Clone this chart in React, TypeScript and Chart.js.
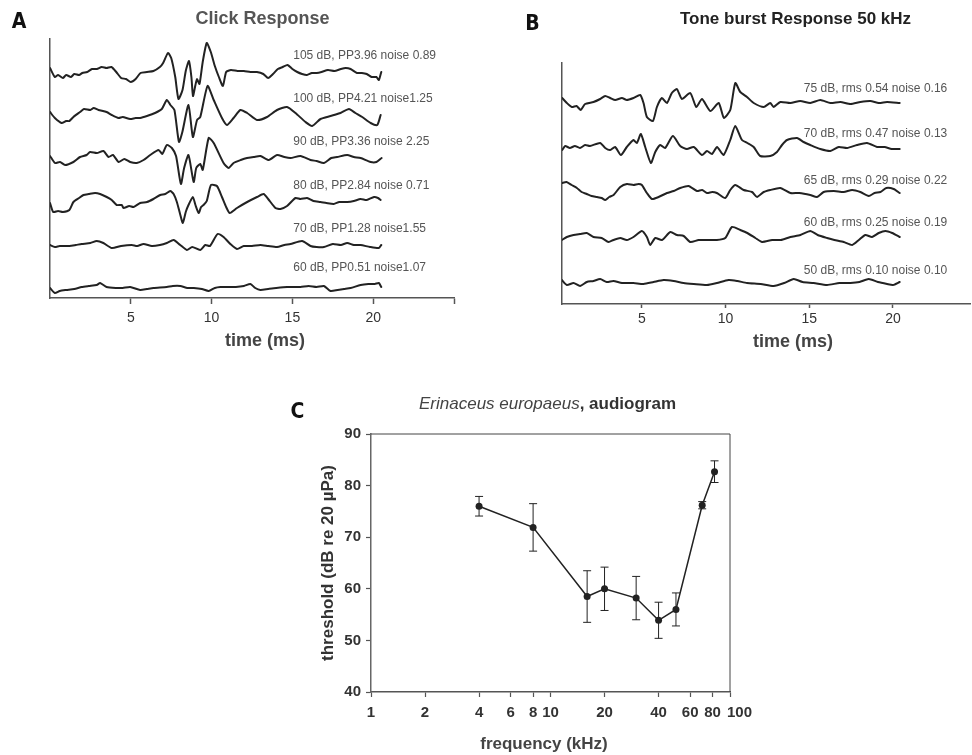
import React, { useEffect, useRef } from "react";
import { Chart, registerables } from "chart.js";

Chart.register(...registerables);

const FONT = '"Liberation Sans", Arial, Helvetica, sans-serif';
const NARROW = '"Liberation Sans Narrow", "DejaVu Sans Condensed", "Liberation Sans", sans-serif';

type Pair = [number, number];

// ---------------- Panel A: click responses (time ms, amplitude a.u.) ----------------
const CLICK_LABELS = [
  "105 dB, PP3.96 noise 0.89",
  "100 dB, PP4.21 noise1.25",
  "90 dB, PP3.36 noise 2.25",
  "80 dB, PP2.84 noise 0.71",
  "70 dB, PP1.28 noise1.55",
  "60 dB, PP0.51 noise1.07",
];
const click105: Pair[] = [[0,4],[0.3,-5],[0.5,-3],[0.8,-6],[1.0,-3],[1.3,-5],[1.5,-2],[1.8,-3],[2.0,-1],[2.3,0],[2.6,3],[2.9,3],[3.2,5],[3.5,4],[3.8,5],[4.1,0],[4.4,-6],[4.7,-7],[5.0,-10],[5.3,-7],[5.6,-1],[6.0,0],[6.4,1],[6.8,5],[7.0,9],[7.3,19],[7.5,14],[7.75,-5],[7.95,-27],[8.2,-18],[8.4,1],[8.6,11],[8.75,-5],[8.85,-24],[9.0,-13],[9.1,-7],[9.25,-12],[9.45,10],[9.7,29],[9.95,20],[10.2,6],[10.45,-5],[10.7,-14],[10.9,0],[11.2,2],[11.6,1],[12.0,1],[12.4,0],[12.8,0],[13.2,-2],[13.5,-6],[13.8,-2],[14.1,3],[14.4,5],[14.7,7],[15.0,3],[15.3,0],[15.6,-2],[15.9,-3],[16.2,-1],[16.5,-1],[16.8,0],[17.2,2],[17.6,1],[18.0,3],[18.3,4],[18.6,3],[19.0,-1],[19.3,-1],[19.6,-2],[19.9,-5],[20.2,-5],[20.35,-8],[20.5,0]];
const click100: Pair[] = [[0,3],[0.3,-3],[0.72,-8],[1.0,-6],[1.2,-6],[1.45,-2],[1.86,3],[2.1,6],[2.5,5],[2.7,7],[3.0,5],[3.5,3],[3.82,0],[4.24,-3],[4.5,-2],[4.96,-4],[5.3,-3],[5.58,-3],[6.0,-1],[6.5,2],[6.92,6],[7.23,15],[7.45,10],[7.7,5],[7.98,-27],[8.19,-17],[8.57,10],[8.84,-22],[9.1,-5],[9.3,-2],[9.75,29],[10.13,15],[10.64,-3],[10.95,-10],[11.36,-3],[11.78,5],[12.2,2],[12.81,-5],[13.43,-2],[14.05,5],[14.67,8],[15.19,2],[15.81,-7],[16.22,-11],[16.74,-4],[17.36,-1],[17.98,2],[18.5,6],[18.9,2],[19.32,-2],[19.84,-8],[20.25,-10],[20.46,0]];
const click90: Pair[] = [[0,2],[0.31,-5],[0.62,-4],[0.93,-7],[1.45,-4],[1.86,1],[2.27,3],[2.48,6],[2.9,5],[3.31,7],[3.62,1],[3.9,3],[4.24,-4],[4.6,-1],[4.96,-4],[5.37,-5],[5.79,-2],[6.2,3],[6.72,8],[6.95,4],[7.23,13],[7.54,10],[7.8,2],[8.1,-26],[8.3,-10],[8.57,3],[8.89,-24],[9.05,-10],[9.3,-6],[9.45,-12],[9.82,20],[10.13,15],[10.74,-5],[11.06,-10],[11.36,-5],[11.8,-2],[12.19,0],[12.6,1],[13.02,2],[13.54,-2],[14.05,3],[14.5,1],[14.88,0],[15.5,2],[16.12,-2],[16.5,-3],[16.95,-5],[17.4,0],[17.77,1],[18.39,3],[18.8,1],[19.22,0],[19.84,-4],[20.2,-4],[20.52,0]];
const click80: Pair[] = [[0,-1],[0.2,-10],[0.5,-9],[0.8,-10],[1.2,-8],[1.45,0],[1.8,4],[2.07,7],[2.4,8],[2.79,9],[3.1,8],[3.51,5],[3.82,2],[4.13,-3],[4.44,-3],[4.55,-6],[4.9,-4],[5.17,-5],[5.58,-1],[6.0,0],[6.4,3],[6.82,7],[7.13,8],[7.44,11],[7.65,8],[7.85,0],[8.05,-12],[8.22,-21],[8.4,-10],[8.57,-3],[8.84,5],[9.0,-3],[9.2,-11],[9.35,-5],[9.5,-3],[9.7,1],[9.96,17],[10.33,16],[10.64,5],[10.9,-5],[11.12,-11],[11.57,-6],[12.2,0],[12.81,5],[13.22,8],[13.5,3],[13.95,-6],[14.26,-7],[14.67,-4],[15.19,4],[15.5,3],[15.91,4],[16.3,1],[16.74,0],[17.1,-1],[17.56,-2],[17.9,0],[18.39,0],[18.8,1],[19.22,3],[19.6,2],[20.05,5],[20.3,4],[20.46,2]];
const click70: Pair[] = [[0,1],[0.3,-1],[0.6,0],[1.2,0],[1.6,1],[1.96,2],[2.5,3],[2.89,5],[3.3,3],[3.82,-2],[4.4,0],[5.06,1],[5.4,0],[5.79,2],[6.3,0],[6.8,1],[7.23,3],[7.65,6],[8.06,1],[8.47,-4],[8.8,-1],[9.3,-4],[9.61,1],[9.9,0],[10.37,12],[10.74,9],[11.16,2],[11.57,-3],[11.99,0],[12.5,0],[13.02,1],[13.5,0],[14.05,-1],[14.5,1],[14.88,2],[15.6,5],[16.12,0],[16.5,-1],[16.95,-1],[17.5,2],[18.0,1],[18.39,3],[18.8,1],[19.22,1],[19.8,-1],[20.35,-2],[20.5,1]];
const click60: Pair[] = [[0,0],[0.3,-5],[0.6,-3],[1.0,-2],[1.5,-1],[1.96,1],[2.4,2],[2.89,3],[3.1,5],[3.5,1],[4.13,0],[4.5,0],[4.96,1],[5.58,-2],[6.0,-1],[6.4,0],[7.23,1],[7.6,2],[8.06,2],[8.5,0],[8.9,0],[9.4,-1],[9.82,-3],[10.2,0],[10.54,1],[11.0,1],[11.5,1],[12.0,2],[12.4,4],[12.7,0],[13.02,-2],[13.5,-1],[14.0,0],[14.67,1],[15.5,1],[16.0,2],[16.5,1],[16.95,2],[17.36,-3],[17.8,-2],[18.2,-1],[18.6,0],[19.22,3],[19.7,4],[20.1,4],[20.35,5],[20.5,1]];
const CLICK_TRACES = [click105, click100, click90, click80, click70, click60];
const TIME_TICKS_A = [5, 10, 15, 20, 25];

// ---------------- Panel B: tone burst 50 kHz ----------------
const TONE_LABELS = [
  "75 dB, rms 0.54 noise 0.16",
  "70 dB, rms 0.47 noise 0.13",
  "65 dB, rms 0.29 noise 0.22",
  "60 dB, rms 0.25 noise 0.19",
  "50 dB, rms 0.10 noise 0.10",
];
const tone75: Pair[] = [[0.24,4],[0.52,-1],[0.82,-5],[1.1,-4],[1.35,-8],[1.61,-2],[2.11,0],[2.51,3],[2.81,6],[3.11,4],[3.41,2],[3.81,4],[4.1,2],[4.5,4],[4.9,7],[5.1,-1],[5.3,-15],[5.66,-19],[5.9,-5],[6.2,4],[6.5,-1],[6.79,9],[7.09,13],[7.39,3],[7.89,9],[8.25,-5],[8.59,3],[9.09,-9],[9.59,-1],[9.9,-16],[10.28,-8],[10.58,19],[10.88,10],[11.28,5],[11.68,-1],[12.28,-5],[12.67,-1],[12.87,-5],[13.27,0],[13.87,-1],[14.46,1],[15.06,-1],[15.66,2],[16.26,-1],[16.86,0],[17.46,-2],[18.05,0],[18.65,1],[19.15,-1],[19.65,0],[20.4,-1]];
const tone70: Pair[] = [[0.24,-2],[0.42,2],[0.7,0],[1.0,2],[1.3,0],[1.61,3],[1.9,2],[2.51,5],[2.81,0],[3.11,-2],[3.4,1],[3.75,-7],[4.1,1],[4.5,8],[4.7,5],[4.94,14],[5.2,1],[5.54,-15],[5.8,-4],[6.1,3],[6.39,0],[6.85,12],[7.29,2],[7.69,-1],[8.1,1],[8.59,-7],[8.89,-3],[9.19,-6],[9.49,1],[9.88,-7],[10.28,8],[10.58,22],[10.98,8],[11.3,5],[11.68,1],[12.07,-8],[12.67,-8],[13.07,-4],[13.37,3],[13.67,8],[14.27,10],[14.66,6],[15.06,3],[15.66,-1],[16.26,-3],[16.76,1],[17.26,0],[17.85,3],[18.45,5],[19.05,1],[19.5,1],[19.92,-1],[20.4,-1]];
const tone65: Pair[] = [[0.22,8],[0.5,9],[0.8,6],[1.12,3],[1.4,-1],[1.71,-3],[2.0,-5],[2.31,-6],[2.6,-7],[2.81,-9],[3.05,-6],[3.31,-4],[3.71,4],[4.11,7],[4.5,6],[4.8,7],[5.0,6],[5.3,-2],[5.6,-8],[6.0,-6],[6.5,-2],[6.9,0],[7.29,3],[7.79,5],[8.29,0],[8.6,1],[8.89,-2],[9.2,-1],[9.48,-2],[9.98,-7],[10.28,1],[10.58,6],[11.08,1],[11.58,-1],[11.88,-6],[12.28,-1],[12.67,1],[13.27,3],[13.87,-2],[14.4,-2],[15.06,-4],[15.46,-6],[15.86,-1],[16.46,0],[17.06,-1],[17.56,1],[18.05,-1],[18.55,-5],[18.9,-2],[19.25,-1],[19.6,3],[20.04,2],[20.4,-2]];
const tone60: Pair[] = [[0.22,-2],[0.52,1],[0.92,3],[1.31,4],[1.71,5],[2.11,1],[2.6,0],[3.01,-4],[3.3,-2],[3.71,0],[4.1,-2],[4.5,1],[5.0,7],[5.3,1],[5.5,-7],[5.8,0],[6.2,-2],[6.7,6],[7.1,3],[7.5,2],[7.89,-4],[8.39,-2],[8.9,-2],[9.48,-2],[9.98,0],[10.38,11],[10.88,8],[11.3,5],[11.78,0],[12.18,-4],[12.78,-2],[13.3,-2],[13.87,1],[14.47,3],[15.06,7],[15.5,3],[16.06,0],[16.5,-2],[17.06,-4],[17.56,-7],[17.96,-2],[18.35,3],[18.75,1],[19.15,5],[19.55,7],[19.95,5],[20.4,1]];
const tone50: Pair[] = [[0.22,2],[0.52,-3],[0.92,-1],[1.31,-4],[1.71,0],[2.11,1],[2.51,3],[2.9,0],[3.3,1],[3.81,-1],[4.5,-1],[5.1,-2],[5.7,0],[6.3,2],[6.9,1],[7.49,-1],[8.1,-2],[8.89,-3],[9.48,-1],[10.18,2],[10.7,1],[11.28,-1],[12.1,-2],[12.87,-4],[13.5,-1],[14.07,3],[14.6,0],[15.26,-1],[16.06,-3],[16.8,-1],[17.46,-1],[18.0,0],[18.55,3],[19.1,0],[19.65,-2],[20.0,-3],[20.4,0]];
const TONE_TRACES = [tone75, tone70, tone65, tone60, tone50];
const TIME_TICKS_B = [5, 10, 15, 20];

// ---------------- Panel C: audiogram ----------------
const FREQ_KHZ = [4, 8, 16, 20, 30, 40, 50, 70, 82];
const THRESHOLD_DB = [76.0, 71.9, 58.5, 60.0, 58.2, 53.9, 56.0, 76.2, 82.7];
const THRESHOLD_SD = [1.9, 4.6, 5.0, 4.2, 4.2, 3.5, 3.2, 0.7, 2.1];
const FREQ_TICKS = [1, 2, 4, 6, 8, 10, 20, 40, 60, 80, 100];

// ---------------- layout constants ----------------
const CLICK_OFFSETS = [226, 183, 140, 96, 52, 10];
const CLICK_LIFT = [16, 16, 16, 16, 17, 20];
const TONE_OFFSETS = [202, 156, 113, 66, 22];
const TONE_LIFT = [13, 14, 10, 15, 11];

const toPoints = (pairs: Pair[], off: number) => pairs.map(([t, v]) => ({ x: t, y: v + off }));

function traceLabelPlugin(labels: string[], offsets: number[], lifts: number[], xVal: number, align: CanvasTextAlign) {
  return {
    id: "traceLabels",
    afterDatasetsDraw(chart: any) {
      const { ctx, scales } = chart;
      ctx.save();
      ctx.font = `12px ${FONT}`;
      ctx.fillStyle = "#555";
      ctx.textAlign = align;
      ctx.textBaseline = "middle";
      labels.forEach((lab, i) => {
        ctx.fillText(lab, scales.x.getPixelForValue(xVal), scales.y.getPixelForValue(offsets[i] + lifts[i]));
      });
      ctx.restore();
    },
  };
}

function traceOptions(cfg: {
  padTop: number; padRight: number; yWidth: number; xHeight: number;
  xMin: number; xMax: number; yMax: number; ticks: number[];
  tickLen: number; tickPad: number;
}) {
  return {
    animation: false as const,
    responsive: false,
    events: [] as any[],
    layout: { padding: { top: cfg.padTop, right: cfg.padRight, left: 0, bottom: 0 } },
    plugins: { legend: { display: false }, tooltip: { enabled: false }, title: { display: false } },
    scales: {
      x: {
        type: "linear" as const,
        min: cfg.xMin,
        max: cfg.xMax,
        afterBuildTicks: (s: any) => { s.ticks = cfg.ticks.map((v) => ({ value: v })); },
        afterFit: (s: any) => { s.height = cfg.xHeight; },
        ticks: {
          autoSkip: false,
          maxRotation: 0,
          padding: cfg.tickPad,
          color: "#333",
          font: { family: FONT, size: 14 },
          callback: (v: any) => (v >= 5 && v <= 20 ? String(v) : ""),
        },
        grid: { display: true, drawOnChartArea: false, drawTicks: true, tickLength: cfg.tickLen, tickWidth: 1.5, tickColor: "#555" },
        border: { display: true, color: "#555", width: 1.5 },
        title: { display: false },
      },
      y: {
        type: "linear" as const,
        min: 0,
        max: cfg.yMax,
        afterFit: (s: any) => { s.width = cfg.yWidth; },
        ticks: { display: false },
        grid: { display: false },
        border: { display: true, color: "#555", width: 1.5 },
      },
    },
  };
}

function traceDataset(pairs: Pair[], off: number) {
  return {
    data: toPoints(pairs, off),
    borderColor: "#222",
    borderWidth: 2,
    pointRadius: 0,
    tension: 0.2,
    fill: false,
    borderJoinStyle: "round" as const,
    borderCapStyle: "round" as const,
  };
}

const errorBarPlugin = {
  id: "errorBars",
  beforeDatasetsDraw(chart: any) {
    const { ctx, scales } = chart;
    ctx.save();
    ctx.strokeStyle = "#222";
    ctx.lineWidth = 1;
    FREQ_KHZ.forEach((f, i) => {
      const x = scales.x.getPixelForValue(f);
      const yt = scales.y.getPixelForValue(THRESHOLD_DB[i] + THRESHOLD_SD[i]);
      const yb = scales.y.getPixelForValue(THRESHOLD_DB[i] - THRESHOLD_SD[i]);
      ctx.beginPath();
      ctx.moveTo(x, yt); ctx.lineTo(x, yb);
      ctx.moveTo(x - 4, yt); ctx.lineTo(x + 4, yt);
      ctx.moveTo(x - 4, yb); ctx.lineTo(x + 4, yb);
      ctx.stroke();
    });
    ctx.restore();
  },
};

const boxPlugin = {
  id: "frameBox",
  beforeDatasetsDraw(chart: any) {
    const { ctx, chartArea: a } = chart;
    ctx.save();
    ctx.strokeStyle = "#444";
    ctx.lineWidth = 1;
    ctx.beginPath();
    ctx.moveTo(a.left, a.top); ctx.lineTo(a.right, a.top); ctx.lineTo(a.right, a.bottom);
    ctx.stroke();
    ctx.restore();
  },
};

const freqLabelPlugin = {
  id: "freqLabels",
  afterDraw(chart: any) {
    const { ctx, scales } = chart;
    const xs = scales.x;
    ctx.save();
    ctx.font = `bold 15px ${FONT}`;
    ctx.fillStyle = "#333";
    ctx.textBaseline = "middle";
    FREQ_TICKS.forEach((v) => {
      const px = xs.getPixelForValue(v);
      if (v === 100) { ctx.textAlign = "left"; ctx.fillText(String(v), px - 3, xs.top + 20.5); }
      else { ctx.textAlign = "center"; ctx.fillText(String(v), px, xs.top + 20.5); }
    });
    ctx.restore();
  },
};

function Txt(props: { x: number; y: number; style?: React.CSSProperties; children: React.ReactNode }) {
  return (
    <div
      style={{
        position: "absolute",
        left: props.x,
        top: props.y,
        transform: "translate(-50%, -50%)",
        whiteSpace: "nowrap",
        lineHeight: 1,
        fontFamily: FONT,
        ...props.style,
      }}
    >
      {props.children}
    </div>
  );
}

export default function App() {
  const refA = useRef<HTMLCanvasElement>(null);
  const refB = useRef<HTMLCanvasElement>(null);
  const refC = useRef<HTMLCanvasElement>(null);

  useEffect(() => {
    const chartA = new Chart(refA.current as HTMLCanvasElement, {
      type: "line",
      data: { datasets: CLICK_TRACES.map((tr, i) => traceDataset(tr, CLICK_OFFSETS[i])) },
      options: traceOptions({
        padTop: 39, padRight: 26, yWidth: 50, xHeight: 62, xMin: 0, xMax: 25, yMax: 259,
        ticks: TIME_TICKS_A, tickLen: 6, tickPad: 6,
      }) as any,
      plugins: [traceLabelPlugin(CLICK_LABELS, CLICK_OFFSETS, CLICK_LIFT, 15.05, "left")],
    });

    const chartB = new Chart(refB.current as HTMLCanvasElement, {
      type: "line",
      data: { datasets: TONE_TRACES.map((tr, i) => traceDataset(tr, TONE_OFFSETS[i])) },
      options: traceOptions({
        padTop: 63, padRight: 2, yWidth: 82, xHeight: 56, xMin: 0.23, xMax: 24.6, yMax: 241,
        ticks: TIME_TICKS_B, tickLen: 4, tickPad: 2.5,
      }) as any,
      plugins: [traceLabelPlugin(TONE_LABELS, TONE_OFFSETS, TONE_LIFT, 23.24, "right")],
    });

    const chartC = new Chart(refC.current as HTMLCanvasElement, {
      type: "line",
      data: {
        datasets: [
          {
            data: FREQ_KHZ.map((f, i) => ({ x: f, y: THRESHOLD_DB[i] })),
            borderColor: "#222",
            borderWidth: 1.5,
            pointRadius: 3.5,
            pointBackgroundColor: "#222",
            pointBorderColor: "#222",
            pointBorderWidth: 0,
            tension: 0,
            fill: false,
          },
        ],
      },
      options: {
        animation: false,
        responsive: false,
        events: [],
        layout: { padding: { top: 13, right: 40, left: 0, bottom: 0 } },
        plugins: { legend: { display: false }, tooltip: { enabled: false } },
        scales: {
          x: {
            type: "logarithmic",
            min: 1,
            max: 100,
            afterBuildTicks: (s: any) => { s.ticks = FREQ_TICKS.map((v) => ({ value: v })); },
            afterFit: (s: any) => { s.height = 63; },
            ticks: { display: false, autoSkip: false },
            grid: { display: true, drawOnChartArea: false, drawTicks: true, tickLength: 5, tickWidth: 1.2, tickColor: "#555" },
            border: { display: true, color: "#555", width: 1.5 },
            title: { display: false },
          },
          y: {
            type: "linear",
            min: 40,
            max: 90,
            afterFit: (s: any) => { s.width = 101; },
            ticks: { stepSize: 10, padding: 5, color: "#333", font: { family: FONT, size: 15, weight: "bold" } },
            grid: { display: true, drawOnChartArea: false, drawTicks: true, tickLength: 5, tickWidth: 1.2, tickColor: "#555" },
            border: { display: true, color: "#666", width: 1.5 },
            title: {
              display: true,
              text: "threshold (dB re 20 µPa)",
              color: "#333",
              font: { family: FONT, size: 17, weight: "bold" },
              padding: { top: 47.8, bottom: 0 },
            },
          },
        },
      } as any,
      plugins: [boxPlugin, errorBarPlugin, freqLabelPlugin],
    });

    return () => {
      chartA.destroy();
      chartB.destroy();
      chartC.destroy();
    };
  }, []);

  const letter: React.CSSProperties = { fontFamily: NARROW, fontWeight: "bold", fontSize: 21, color: "#111", fontStretch: "condensed" };
  const axisTitle: React.CSSProperties = { fontWeight: "bold", fontSize: 18, color: "#444" };

  return (
    <div style={{ position: "absolute", left: 0, top: 0, width: 972, height: 755, background: "#fff", overflow: "hidden" }}>
      <canvas ref={refA} width={480} height={360} style={{ position: "absolute", left: 0, top: 0, width: 480, height: 360 }} />
      <canvas ref={refB} width={492} height={360} style={{ position: "absolute", left: 480, top: 0, width: 492, height: 360 }} />
      <canvas ref={refC} width={500} height={335} style={{ position: "absolute", left: 270, top: 420, width: 500, height: 335 }} />

      <Txt x={19} y={20.5} style={letter}>A</Txt>
      <Txt x={262.5} y={18} style={{ fontWeight: "bold", fontSize: 18, color: "#555" }}>Click Response</Txt>
      <Txt x={265} y={340} style={axisTitle}>time (ms)</Txt>

      <Txt x={532.5} y={22.5} style={letter}>B</Txt>
      <Txt x={795.5} y={18} style={{ fontWeight: "bold", fontSize: 17, color: "#222" }}>Tone burst Response 50 kHz</Txt>
      <Txt x={793} y={341} style={axisTitle}>time (ms)</Txt>

      <Txt x={297.5} y={410.5} style={letter}>C</Txt>
      <Txt x={547.5} y={403} style={{ fontSize: 17 }}>
        <span style={{ fontStyle: "italic", color: "#444" }}>Erinaceus europaeus</span>
        <span style={{ fontWeight: "bold", color: "#333" }}>, audiogram</span>
      </Txt>
      <Txt x={544} y={743} style={{ fontWeight: "bold", fontSize: 17, color: "#444" }}>frequency (kHz)</Txt>
    </div>
  );
}
